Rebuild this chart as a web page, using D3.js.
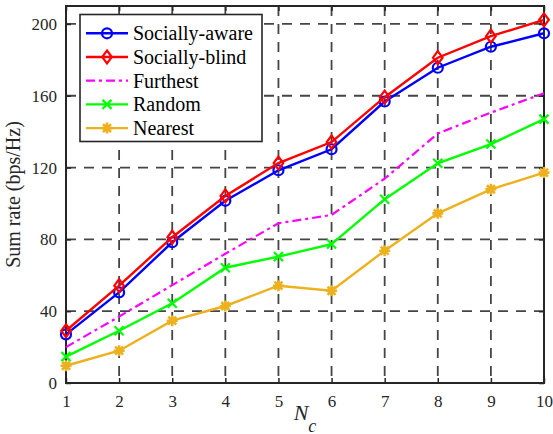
<!DOCTYPE html>
<html>
<head>
<meta charset="utf-8">
<script src="https://cdn.jsdelivr.net/npm/d3@7"></script>
<style>
  body { margin: 0; background: #fff; }
  text { font-family: "Liberation Serif", "Times New Roman", serif; }
</style>
</head>
<body>
<div id="chart-area"></div>
<script>
// Data
var nc = [1, 2, 3, 4, 5, 6, 7, 8, 9, 10]
var sociallyAware = [27.1, 50.5, 78.4, 101.5, 118.5, 130.2, 156.8, 175.6, 187.3, 194.8]
var sociallyBlind = [29.1, 54.2, 81.2, 104.2, 122.5, 134.2, 159.2, 181.2, 193.2, 202.3]
var furthest = [20, 37, 54.5, 72, 89, 93.6, 113.8, 139, 150.6, 161.4]
var random = [14.7, 29.1, 44.4, 64.2, 70.4, 77.4, 102.4, 122.4, 133.1, 147]
var nearest = [9.6, 18, 34.7, 42.9, 54.2, 51.4, 73.7, 94.5, 107.9, 117.2]
var xTicks = [1, 2, 3, 4, 5, 6, 7, 8, 9, 10]
var yTicks = [0, 40, 80, 120, 160, 200]

var series = [
    {name: "Socially-aware", values: sociallyAware, color: "#0000ff", marker: "circle", dash: null},
    {name: "Socially-blind", values: sociallyBlind, color: "#ff0000", marker: "diamond", dash: null},
    {name: "Furthest", values: furthest, color: "#ff00ff", marker: "none", dash: "9,4,3,4"},
    {name: "Random", values: random, color: "#00ff00", marker: "cross", dash: null},
    {name: "Nearest", values: nearest, color: "#edb120", marker: "star", dash: null}
]

var margin = {top: 6, right: 9, bottom: 51, left: 66},
    width = 553 - margin.left - margin.right,
    height = 434 - margin.top - margin.bottom

var svg = d3.select("#chart-area")
    .append("svg")
        .attr("width", 553)
        .attr("height", 434)

var g = svg.append("g")
    .attr("transform", "translate(" + margin.left + ", " + margin.top + ")")

var x = d3.scaleLinear().domain([1, 10]).range([0, width])
var y = d3.scaleLinear().domain([0, 210]).range([height, 0])

// Grid
var gridDash = "10,8"
g.append("g")
    .selectAll("line.vgrid")
    .data(xTicks.slice(1, -1))
    .enter().append("line")
        .attr("x1", d => x(d)).attr("x2", d => x(d))
        .attr("y1", 0).attr("y2", height)
        .attr("stroke", "#454545")
        .attr("stroke-width", 1.8)
        .attr("stroke-dasharray", gridDash)
g.append("g")
    .selectAll("line.hgrid")
    .data(yTicks.slice(1))
    .enter().append("line")
        .attr("y1", d => y(d)).attr("y2", d => y(d))
        .attr("x1", 0).attr("x2", width)
        .attr("stroke", "#454545")
        .attr("stroke-width", 1.8)
        .attr("stroke-dasharray", gridDash)

// Axes (ticks pointing inward)
var xAxisCall = d3.axisBottom(x).tickValues(xTicks).tickSize(-5).tickPadding(11.5)
var xAxis = g.append("g")
    .attr("transform", "translate(0, " + height + ")")
    .call(xAxisCall)
var yAxisCall = d3.axisLeft(y).tickValues(yTicks).tickSize(-5).tickPadding(9)
var yAxis = g.append("g").call(yAxisCall)
g.append("g").call(d3.axisTop(x).tickValues(xTicks).tickSize(-5).tickFormat(""))
g.append("g").attr("transform", "translate(" + width + ",0)")
    .call(d3.axisRight(y).tickValues(yTicks).tickSize(-5).tickFormat(""))

g.selectAll(".domain").remove()
g.selectAll(".tick line").attr("stroke", "#262626").attr("stroke-width", 1.5)
g.selectAll(".tick text")
    .attr("font-size", 17)
    .attr("fill", "#262626")
    .style("font-family", "'Liberation Serif', serif")

// Box
g.append("rect")
    .attr("width", width).attr("height", height)
    .attr("fill", "none")
    .attr("stroke", "#262626")
    .attr("stroke-width", 2)

// Lines
var line = d3.line()
    .x((d, i) => x(nc[i]))
    .y(d => y(d))

function drawMarker(sel, type, color) {
    if (type == "circle") {
        sel.append("circle").attr("r", 5)
            .attr("fill", "none").attr("stroke", color).attr("stroke-width", 2.2)
    } else if (type == "diamond") {
        sel.append("path").attr("d", "M0,-6.5L4.8,0L0,6.5L-4.8,0Z")
            .attr("fill", "none").attr("stroke", color).attr("stroke-width", 2.2)
    } else if (type == "cross") {
        sel.append("path").attr("d", "M-4.5,-4.5L4.5,4.5M-4.5,4.5L4.5,-4.5")
            .attr("stroke", color).attr("stroke-width", 2.2)
    } else if (type == "star") {
        sel.append("path").attr("d", "M-5.5,0L5.5,0M0,-5.5L0,5.5M-4,-4L4,4M-4,4L4,-4")
            .attr("stroke", color).attr("stroke-width", 2.6)
        sel.append("circle").attr("r", 3.2).attr("fill", color)
    }
}

series.forEach(function(s) {
    g.append("path")
        .datum(s.values)
        .attr("d", line)
        .attr("fill", "none")
        .attr("stroke", s.color)
        .attr("stroke-width", s.dash ? 2.2 : 2.4)
        .attr("stroke-dasharray", s.dash)
    if (s.marker != "none") {
        g.selectAll(null)
            .data(s.values)
            .enter().append("g")
                .attr("transform", (d, i) => "translate(" + x(nc[i]) + "," + y(d) + ")")
                .each(function() { drawMarker(d3.select(this), s.marker, s.color) })
    }
})

// Legend
var legend = g.append("g").attr("transform", "translate(14, 8.5)")
legend.append("rect")
    .attr("width", 182).attr("height", 127)
    .attr("fill", "#fff")
    .attr("stroke", "#262626")
    .attr("stroke-width", 1.6)
series.forEach(function(s, i) {
    var row = legend.append("g").attr("transform", "translate(0," + (18.8 + i * 23.7) + ")")
    row.append("line")
        .attr("x1", 6).attr("x2", 48)
        .attr("stroke", s.color)
        .attr("stroke-width", s.dash ? 2.2 : 2.4)
        .attr("stroke-dasharray", s.dash ? "9,4,3,4" : null)
    if (s.marker != "none") {
        var m = row.append("g").attr("transform", "translate(27,0)")
        drawMarker(m, s.marker, s.color)
    }
    row.append("text")
        .attr("x", 53)
        .attr("y", 7)
        .attr("font-size", 20)
        .attr("fill", "#000")
        .style("font-family", "'Liberation Serif', serif")
        .text(s.name)
})

// Axis labels
g.append("text")
    .attr("x", -height / 2)
    .attr("y", -46)
    .attr("text-anchor", "middle")
    .attr("font-size", 20)
    .attr("fill", "#262626")
    .attr("transform", "rotate(-90)")
    .text("Sum rate (bps/Hz)")

var xl = g.append("text")
    .attr("x", width / 2)
    .attr("y", height + 36.5)
    .attr("text-anchor", "middle")
    .attr("font-size", 22)
    .attr("fill", "#262626")
xl.append("tspan").attr("font-style", "italic").text("N")
xl.append("tspan").attr("font-style", "italic").attr("font-size", 18).attr("dy", 12).text("c")
</script>
</body>
</html>
